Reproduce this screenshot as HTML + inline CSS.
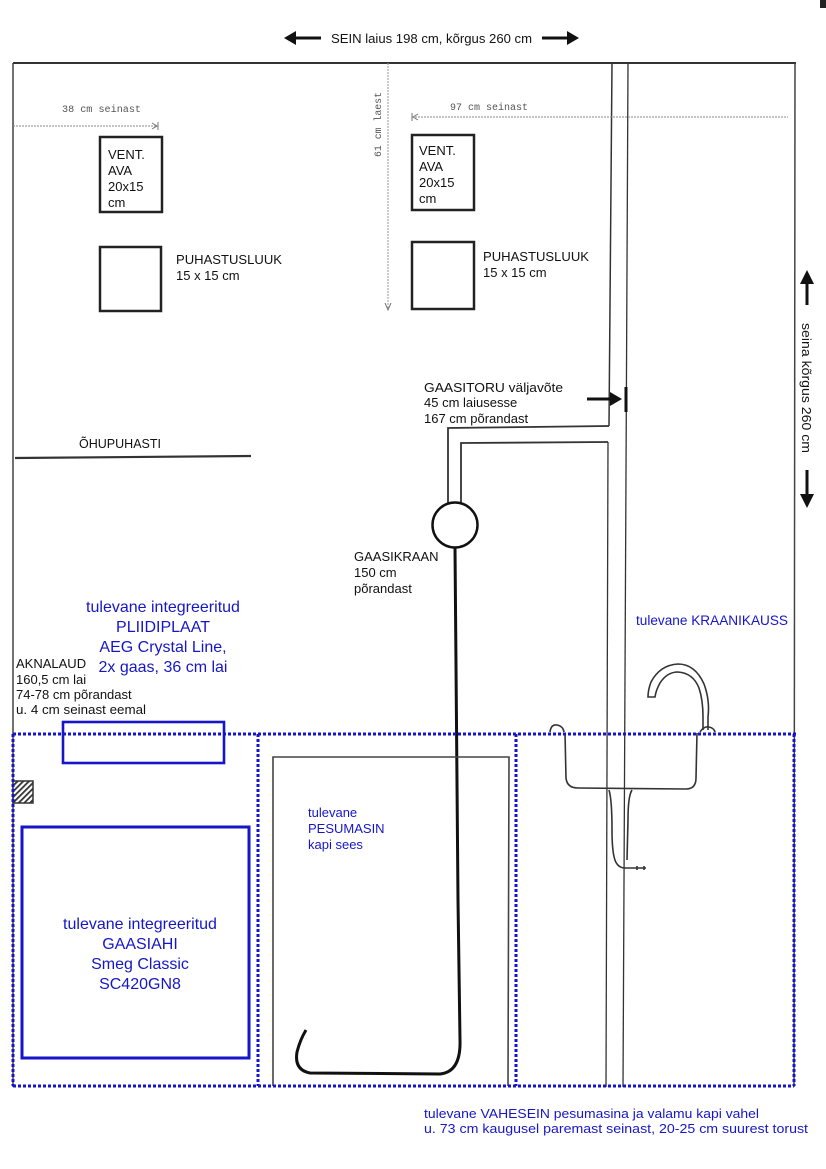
<!DOCTYPE html>
<html><head><meta charset="utf-8"><style>
html,body{margin:0;padding:0;background:#fff;}
svg{display:block;}
text{font-family:"Liberation Sans",sans-serif;}
.k{fill:#111;font-size:13px;}
.b{fill:#1616c8;}
.m{font-family:"Liberation Mono",monospace;fill:#555;font-size:10px;}
</style></head><body>
<svg width="826" height="1169" viewBox="0 0 826 1169" xmlns="http://www.w3.org/2000/svg">
<defs>
<pattern id="h" width="4" height="4" patternUnits="userSpaceOnUse" patternTransform="rotate(45)">
<rect width="4" height="4" fill="#fff"/><rect width="1.8" height="4" fill="#333"/>
</pattern>
</defs>
<rect x="0" y="0" width="826" height="1169" fill="#fff"/>
<rect x="820" y="0" width="6" height="8" fill="#222"/>

<!-- top title -->
<g stroke="#111" stroke-width="3" fill="#111">
<line x1="292" y1="38" x2="321" y2="38"/>
<polygon points="284,38 296,31 296,45" stroke="none"/>
<line x1="542" y1="38" x2="570" y2="38"/>
<polygon points="579,38 567,31 567,45" stroke="none"/>
</g>
<text class="k" x="331" y="43" textLength="201" lengthAdjust="spacingAndGlyphs">SEIN laius 198 cm, kõrgus 260 cm</text>

<!-- outer frame -->
<line x1="13" y1="63" x2="796" y2="63" stroke="#333" stroke-width="2"/>
<line x1="13" y1="63" x2="13" y2="1087" stroke="#444" stroke-width="1.5"/>
<line x1="795" y1="63" x2="794" y2="1087" stroke="#444" stroke-width="1.5"/>

<!-- pipes -->
<line x1="612" y1="63" x2="609" y2="426" stroke="#333" stroke-width="1.5"/>
<line x1="608" y1="442" x2="606" y2="1087" stroke="#333" stroke-width="1.3"/>
<line x1="628" y1="63" x2="623" y2="1087" stroke="#333" stroke-width="1.3"/>

<!-- dimension lines -->
<line x1="13" y1="126" x2="157" y2="126" stroke="#888" stroke-width="1" stroke-dasharray="2 1"/>
<line x1="158" y1="122" x2="158" y2="130" stroke="#777" stroke-width="1"/>
<polyline points="152,123 157,126 152,129" fill="none" stroke="#777" stroke-width="1"/>
<text class="m" x="62" y="112" textLength="79" lengthAdjust="spacingAndGlyphs">38 cm seinast</text>

<line x1="412" y1="117" x2="788" y2="117" stroke="#888" stroke-width="1" stroke-dasharray="2 1"/>
<line x1="412" y1="113" x2="412" y2="121" stroke="#777" stroke-width="1"/>
<polyline points="418,114 413,117 418,120" fill="none" stroke="#777" stroke-width="1"/>
<text class="m" x="450" y="110" textLength="78" lengthAdjust="spacingAndGlyphs">97 cm seinast</text>

<line x1="388" y1="63" x2="388" y2="310" stroke="#999" stroke-width="1" stroke-dasharray="2 1"/>
<polyline points="385,303 388,310 391,303" fill="none" stroke="#777" stroke-width="1"/>
<text class="m" transform="translate(381,157) rotate(-90)" x="0" y="0" textLength="65" lengthAdjust="spacingAndGlyphs">61 cm laest</text>

<!-- vent boxes -->
<g fill="none" stroke="#222" stroke-width="2.5">
<rect x="100" y="137" width="62" height="75"/>
<rect x="412" y="135" width="62" height="75"/>
<rect x="100" y="247" width="61" height="64"/>
<rect x="412" y="242" width="62" height="67"/>
</g>
<g class="k">
<text x="108" y="159">VENT.</text>
<text x="108" y="175">AVA</text>
<text x="108" y="191">20x15</text>
<text x="108" y="207">cm</text>
<text x="419" y="155">VENT.</text>
<text x="419" y="171">AVA</text>
<text x="419" y="187">20x15</text>
<text x="419" y="203">cm</text>
<text x="176" y="264" textLength="106" lengthAdjust="spacingAndGlyphs">PUHASTUSLUUK</text>
<text x="176" y="280">15 x 15 cm</text>
<text x="483" y="261" textLength="106" lengthAdjust="spacingAndGlyphs">PUHASTUSLUUK</text>
<text x="483" y="277">15 x 15 cm</text>
</g>

<!-- right vertical dimension -->
<g fill="#111" stroke="#111" stroke-width="3">
<line x1="807" y1="280" x2="807" y2="305"/>
<polygon points="807,270 800,284 814,284" stroke="none"/>
<line x1="807" y1="470" x2="807" y2="497"/>
<polygon points="807,508 800,494 814,494" stroke="none"/>
</g>
<text class="k" transform="translate(802,323) rotate(90)" x="0" y="0" textLength="130" lengthAdjust="spacingAndGlyphs">seina kõrgus 260 cm</text>

<!-- õhupuhasti -->
<text class="k" x="79" y="448" textLength="82" lengthAdjust="spacingAndGlyphs">ÕHUPUHASTI</text>
<line x1="15" y1="458" x2="251" y2="456" stroke="#333" stroke-width="2.2"/>

<!-- gas pipe -->
<text class="k" x="424" y="392" textLength="139" lengthAdjust="spacingAndGlyphs">GAASITORU väljavõte</text>
<text class="k" x="424" y="407">45 cm laiusesse</text>
<text class="k" x="424" y="423">167 cm põrandast</text>
<line x1="587" y1="399" x2="614" y2="399" stroke="#111" stroke-width="3"/>
<polygon points="622,399 610,392 610,406" fill="#111"/>
<line x1="626" y1="387" x2="626" y2="412" stroke="#111" stroke-width="3"/>

<polyline points="609,426 448,428 448,503" fill="none" stroke="#333" stroke-width="1.8"/>
<polyline points="608,442 461,443 461,505" fill="none" stroke="#333" stroke-width="1.8"/>
<circle cx="455" cy="525" r="22.5" fill="#fff" stroke="#111" stroke-width="2.5"/>
<text class="k" x="354" y="561">GAASIKRAAN</text>
<text class="k" x="354" y="577">150 cm</text>
<text class="k" x="354" y="593">põrandast</text>
<path d="M455,548 L458,900 L460,1040 Q461,1072 440,1074 L310,1073 Q294,1070 297,1052 Q300,1040 306,1030" fill="none" stroke="#111" stroke-width="3"/>

<!-- blue texts -->
<g class="b" font-size="16" text-anchor="middle">
<text x="163" y="612">tulevane integreeritud</text>
<text x="163" y="632">PLIIDIPLAAT</text>
<text x="163" y="652">AEG Crystal Line,</text>
<text x="163" y="672">2x gaas, 36 cm lai</text>
<text x="140" y="929">tulevane integreeritud</text>
<text x="140" y="949">GAASIAHI</text>
<text x="140" y="969">Smeg Classic</text>
<text x="140" y="989">SC420GN8</text>
</g>
<text class="b" font-size="13.5" x="636" y="625" textLength="152" lengthAdjust="spacingAndGlyphs">tulevane KRAANIKAUSS</text>
<g class="b" font-size="13">
<text x="308" y="817">tulevane</text>
<text x="308" y="833">PESUMASIN</text>
<text x="308" y="849">kapi sees</text>
<text x="424" y="1118" textLength="335" lengthAdjust="spacingAndGlyphs">tulevane VAHESEIN pesumasina ja valamu kapi vahel</text>
<text x="424" y="1133" textLength="384" lengthAdjust="spacingAndGlyphs">u. 73 cm kaugusel paremast seinast, 20-25 cm suurest torust</text>
</g>

<!-- aknalaud -->
<g class="k">
<text x="16" y="668">AKNALAUD</text>
<text x="16" y="684">160,5 cm lai</text>
<text x="16" y="699">74-78 cm põrandast</text>
<text x="16" y="714" textLength="130" lengthAdjust="spacingAndGlyphs">u. 4 cm seinast eemal</text>
</g>

<!-- hatched -->
<rect x="13" y="781" width="20" height="22" fill="url(#h)" stroke="#333" stroke-width="1.5"/>

<!-- washing machine cabinet -->
<polyline points="273,1086 273,757 509,757 508,1086" fill="none" stroke="#444" stroke-width="1.6"/>

<!-- sink -->
<g fill="none" stroke="#333" stroke-width="1.6">
<path d="M565,733 L566,778 Q567,788 578,788 L686,789 Q696,789 696,778 L697,733"/>
<path d="M550,732 Q551,724 557,725 Q563,726 564,732"/>
<path d="M700,732 Q704,726 709,727 Q714,728 715,732"/>
<path d="M708,730 L708,717 Q710,700 704,684 Q695,664 678,664 Q660,665 651,682 Q648,690 648,697 L655,697 Q656,690 660,683 Q667,672 678,672 Q693,673 699,688 Q703,700 703,717 L703,730"/>
<path d="M609,790 Q612,800 612,830 Q612,858 617,864 Q620,868 625,868 L646,868"/>
<path d="M632,790 Q628,796 628,820 L627,860"/>
<line x1="637" y1="866" x2="637" y2="870"/>
<line x1="644" y1="866" x2="644" y2="870"/>
</g>

<!-- blue solid rects -->
<rect x="63" y="722" width="161" height="41" fill="none" stroke="#1616c8" stroke-width="2.6"/>
<rect x="22" y="827" width="227" height="231" fill="none" stroke="#1616c8" stroke-width="3"/>

<!-- blue dotted cabinets -->
<g fill="none" stroke="#1414cc" stroke-width="3" stroke-dasharray="3 2">
<line x1="13" y1="734" x2="796" y2="734"/>
<line x1="13" y1="1086" x2="794" y2="1086"/>
<line x1="13" y1="734" x2="13" y2="1086"/>
<line x1="258" y1="734" x2="258" y2="1086"/>
<line x1="516" y1="734" x2="516" y2="1086"/>
<line x1="794" y1="734" x2="794" y2="1086"/>
</g>
</svg>
</body></html>
